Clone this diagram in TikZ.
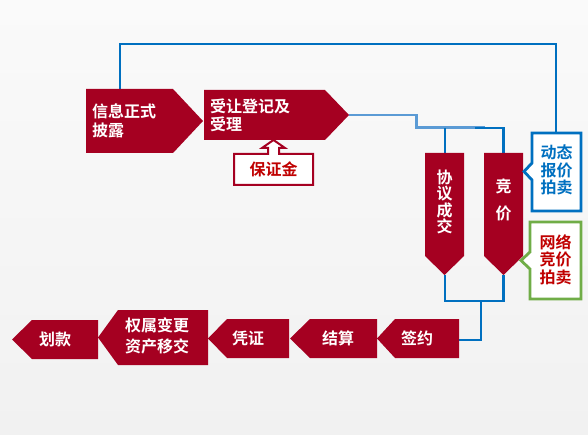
\documentclass[tikz,border=0pt]{standalone}
\usepackage{fontspec}
\newfontfamily\cjk{Noto Sans CJK SC Bold}
\definecolor{boxred}{HTML}{A50021}
\definecolor{dblue}{HTML}{0070C0}
\definecolor{lblue}{HTML}{5B9BD5}
\definecolor{grn}{HTML}{70AD47}
\definecolor{txtred}{HTML}{C00000}
\definecolor{bgtop}{HTML}{FAFAFA}
\definecolor{bgbot}{HTML}{F1F1F1}
\tikzset{
  redshape/.style={fill=boxred},
  wtxt/.style={text=white, font=\cjk\fontsize{16}{18.5}\selectfont, inner sep=0pt, align=left},
  vtxt/.style={text=white, font=\cjk\fontsize{16}{16.5}\selectfont, inner sep=0pt, align=center},
  ctxt/.style={font=\cjk\fontsize{16}{17.5}\selectfont, inner sep=0pt, align=center},
  dline/.style={draw=dblue, line width=2.2pt},
  lline/.style={draw=lblue, line width=2.8pt},
  callout/.style={fill=white, line width=2.8pt, line join=miter},
}
\begin{document}
\begin{tikzpicture}[x=1pt,y=-1pt]
\useasboundingbox (0,0) rectangle (588,435);
\shade[top color=bgtop, bottom color=bgbot] (0,0) rectangle (588,435);

% connectors (behind shapes)
\coordinate (xx-top) at (120,89);
\coordinate (sl-tip) at (349,115);
\coordinate (xy-top) at (445,153);
\coordinate (jj-top) at (503.5,153);
\coordinate (xy-tip) at (445,275);
\coordinate (jj-tip) at (503.5,275);
\coordinate (qy-east) at (457,340);
\coordinate (dt-top) at (556,133);
\coordinate (bend1) at (416.7,115);
\coordinate (lend) at (485,127.5);
\coordinate (dstart) at (475,128);
\coordinate (xy-branch) at (445,128);
\coordinate (join) at (481,301);

\draw[dline] (xx-top) -- (120,44) -| (dt-top);
\draw[lline] (sl-tip) -- (bend1) |- (lend);
\draw[dline] (dstart) -| (jj-top);
\draw[dline] (xy-branch) -- (xy-top);
\draw[dline] (xy-tip) |- (join) -| (jj-tip);
\draw[dline] (join) |- (qy-east);

% top row
\fill[redshape] (86,89) -- (173,89) -- (203,121) -- (173,153) -- (86,153) -- cycle;
\node[wtxt, anchor=west] (xx) at (92,121) {信息正式\\披露};
\fill[redshape] (204,90) -- (325,90) -- (349,115) -- (325,140) -- (204,140) -- cycle;
\node[wtxt, anchor=west] (sl) at (210,115.5) {受让登记及\\受理};

% deposit callout
\filldraw[fill=white, draw=boxred, line width=2pt, line join=miter]
  (234,154) -- (268,154) -- (268,148) -- (262,148) -- (273.5,140) -- (285,148)
  -- (279,148) -- (279,154) -- (313,154) -- (313,185) -- (234,185) -- cycle;
\node[ctxt, text=txtred] (bzj) at (273.5,169.5) {保证金};

% vertical boxes
\fill[redshape] (425,153) -- (464,153) -- (464,256) -- (444.5,275) -- (425,256) -- cycle;
\node[vtxt] (xy) at (444.5,202) {协\\议\\成\\交};
\fill[redshape] (484,153) -- (523,153) -- (523,256) -- (503.5,275) -- (484,256) -- cycle;
\node[text=white, font=\cjk\fontsize{16}{27}\selectfont, inner sep=0pt, align=center] (jj) at (503.5,199.5) {竞\\价};

% side callouts
\filldraw[callout, draw=dblue] (532,133) -- (581,133) -- (581,211) -- (532,211)
  -- (532,180) -- (524,171.5) -- (532,163) -- cycle;
\node[ctxt, text=dblue] (dt) at (556.5,170) {动态\\报价\\拍卖};
\filldraw[callout, draw=grn] (530,222) -- (581,222) -- (581,299) -- (530,299)
  -- (530,269) -- (521,260.5) -- (530,252) -- cycle;
\node[ctxt, text=txtred] (wl) at (555.5,259.5) {网络\\竞价\\拍卖};

% bottom row
\fill[redshape] (459,319) -- (395,319) -- (377,338.5) -- (395,358) -- (459,358) -- cycle;
\node[wtxt] (qy) at (417,338.5) {签约};
\fill[redshape] (377,319) -- (310,319) -- (290,338.5) -- (310,358) -- (377,358) -- cycle;
\node[wtxt] (js) at (338,338.5) {结算};
\fill[redshape] (289,319) -- (227,319) -- (208,338.5) -- (227,358) -- (289,358) -- cycle;
\node[wtxt] (pz) at (248,338.5) {凭证};
\fill[redshape] (208,310) -- (118,310) -- (98,337.5) -- (118,365) -- (208,365) -- cycle;
\node[text=white, font=\cjk\fontsize{16}{21}\selectfont, inner sep=0pt, align=center] (qs) at (157,336) {权属变更\\资产移交};
\fill[redshape] (98,320) -- (32,320) -- (12,339.5) -- (32,359) -- (98,359) -- cycle;
\node[wtxt] (hk) at (55,339.5) {划款};
\end{tikzpicture}
\end{document}
